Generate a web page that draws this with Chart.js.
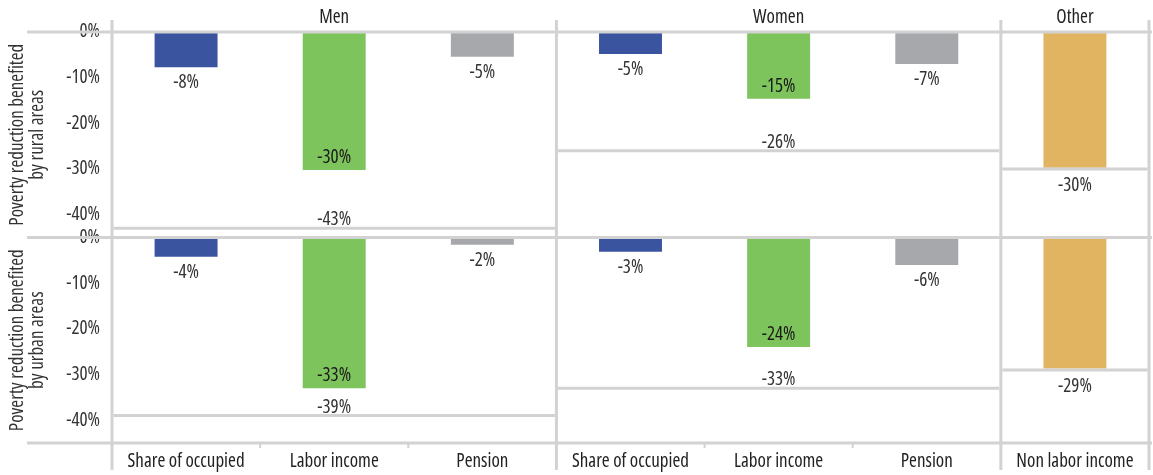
<!DOCTYPE html>
<html>
<head>
<meta charset="utf-8">
<script src="https://cdn.jsdelivr.net/npm/chart.js@4.4.1/dist/chart.umd.min.js"></script>
<style>
  html, body { margin: 0; padding: 0; background: #fff; }
  #wrap { position: relative; width: 1153px; height: 475px; }
</style>
</head>
<body>
<div id="wrap"><canvas id="chart"></canvas></div>
<script>
const groups = ['Men', 'Women', 'Other'];
const categories = ['Share of occupied', 'Labor income', 'Pension',
  'Share of occupied', 'Labor income', 'Pension', 'Non labor income'];
const categoryGroup = [0, 0, 0, 1, 1, 1, 2];
const ruralValues = [-7.7, -30.2, -5.4, -4.8, -14.6, -7.0, -29.7];
const urbanValues = [-4.2, -33.0, -1.6, -3.1, -24.0, -6.0, -28.7];
const ruralTotals = [-43, -26, -30];
const urbanTotals = [-39, -33, -29];
const yTicks = [0, -10, -20, -30, -40];
const rowTitles = [
  ['Poverty reduction benefited', 'by rural areas'],
  ['Poverty reduction benefited', 'by urban areas'],
];

// condensed face of Open Sans, closest to the original condensed sans
const FONT = "'Open Sans', 'DejaVu Sans Condensed', sans-serif";
const FONT_SIZE = 19;
const STRETCH = 'condensed';
const textColor = '#333333';
const lineColor = '#d2d2d2';
const typeColors = {
  'Share of occupied': '#3b54a0',
  'Labor income': '#7ec45c',
  'Pension': '#a7a8ab',
  'Non labor income': '#e1b461',
};

Chart.defaults.font.family = FONT;
Chart.defaults.font.size = FONT_SIZE;
Chart.defaults.font.weight = STRETCH; // goes into the font string, read as font-stretch
Chart.defaults.color = textColor;

const fmt = (v) => Math.round(v) + '%';

function yScale(title) {
  return {
    type: 'linear',
    position: 'left',
    stack: 'rows',
    stackWeight: 1,
    min: -45,
    max: 0,
    grid: { display: false, drawTicks: false },
    border: { display: false },
    ticks: { color: textColor, padding: 12, callback: (v) => v + '%' },
    afterBuildTicks: (s) => { s.ticks = yTicks.map((v) => ({ value: v })); },
    afterFit: (s) => { s.width = 112; },
    title: {
      display: true,
      text: title,
      color: textColor,
      font: { size: FONT_SIZE, lineHeight: 1.05 },
      padding: { top: 8, bottom: 0 },
    },
  };
}

const facetPlugin = {
  id: 'facets',
  afterDatasetsDraw(chart) {
    const { ctx, chartArea, scales } = chart;
    const x = scales.x;
    const rows = [scales.yTop, scales.yBot];
    const totals = [ruralTotals, urbanTotals];
    const step = x.getPixelForValue(1) - x.getPixelForValue(0);
    const edge = (i) => x.getPixelForValue(i) - step / 2;
    const bottom = scales.yBot.getPixelForValue(scales.yBot.min);

    ctx.save();
    ctx.strokeStyle = lineColor;
    ctx.lineWidth = 3;
    const line = (x0, y0, x1, y1) => {
      ctx.beginPath();
      ctx.moveTo(x0, y0);
      ctx.lineTo(x1, y1);
      ctx.stroke();
    };

    // row borders (zero lines and bottom)
    line(27, rows[0].getPixelForValue(0), chartArea.right + 3, rows[0].getPixelForValue(0));
    line(27, rows[1].getPixelForValue(0), chartArea.right + 3, rows[1].getPixelForValue(0));
    line(27, bottom, chartArea.right + 3, bottom);

    ctx.font = STRETCH + ' ' + FONT_SIZE + 'px ' + FONT;
    ctx.textAlign = 'center';
    ctx.textBaseline = 'alphabetic';

    groups.forEach((g, gi) => {
      const first = categoryGroup.indexOf(gi);
      const last = categoryGroup.lastIndexOf(gi);
      const left = edge(first);
      const right = edge(last + 1);
      const single = first === last;

      // panel separators
      ctx.strokeStyle = lineColor;
      ctx.lineWidth = 3;
      line(left, 20, left, 470);
      if (gi === groups.length - 1) line(right, 20, right, 470);

      // header
      ctx.fillStyle = '#222';
      ctx.fillText(g, (left + right) / 2, 23);

      // small ticks between categories
      ctx.lineWidth = 2;
      for (let i = first + 1; i <= last; i++) line(edge(i), bottom, edge(i), bottom + 5);

      // total line per row
      rows.forEach((ys, ri) => {
        const t = totals[ri][gi];
        const yy = ys.getPixelForValue(t);
        ctx.strokeStyle = lineColor;
        ctx.lineWidth = 3;
        line(left + 1.5, yy, right - 1.5, yy);
        ctx.fillStyle = textColor;
        ctx.fillText(fmt(t), (left + right) / 2, single ? yy + 22 : yy - 3);
      });
    });

    // bar value labels (single-bar panels show only the total)
    chart.data.datasets.forEach((ds, di) => {
      chart.getDatasetMeta(di).data.forEach((bar, i) => {
        const gi = categoryGroup[i];
        if (categoryGroup.indexOf(gi) === categoryGroup.lastIndexOf(gi)) return;
        const inside = categories[i] === 'Labor income';
        ctx.fillStyle = inside ? '#1a1a1a' : textColor;
        ctx.fillText(fmt(ds.data[i]), bar.x, inside ? bar.y - 7 : bar.y + 21);
      });
    });
    ctx.restore();
  },
};

const barColors = categories.map((c) => typeColors[c]);

new Chart(document.getElementById('chart'), {
  type: 'bar',
  data: {
    labels: categories,
    datasets: [
      {
        label: 'Rural',
        data: ruralValues,
        yAxisID: 'yTop',
        backgroundColor: barColors,
        grouped: false,
        categoryPercentage: 1,
        barPercentage: 0.425,
      },
      {
        label: 'Urban',
        data: urbanValues,
        yAxisID: 'yBot',
        backgroundColor: barColors,
        grouped: false,
        categoryPercentage: 1,
        barPercentage: 0.425,
      },
    ],
  },
  options: {
    responsive: true,
    maintainAspectRatio: false,
    animation: false,
    layout: { padding: { top: 32, right: 4, left: 0, bottom: 0 } },
    plugins: { legend: { display: false }, tooltip: { enabled: false } },
    scales: {
      x: {
        type: 'category',
        grid: { display: false, drawTicks: false },
        border: { display: false },
        ticks: { color: '#222', padding: 7, autoSkip: false, maxRotation: 0, minRotation: 0 },
        afterFit: (s) => { s.height = 32; },
      },
      yBot: yScale(rowTitles[1]),
      yTop: yScale(rowTitles[0]),
    },
  },
  plugins: [facetPlugin],
});
</script>
</body>
</html>
